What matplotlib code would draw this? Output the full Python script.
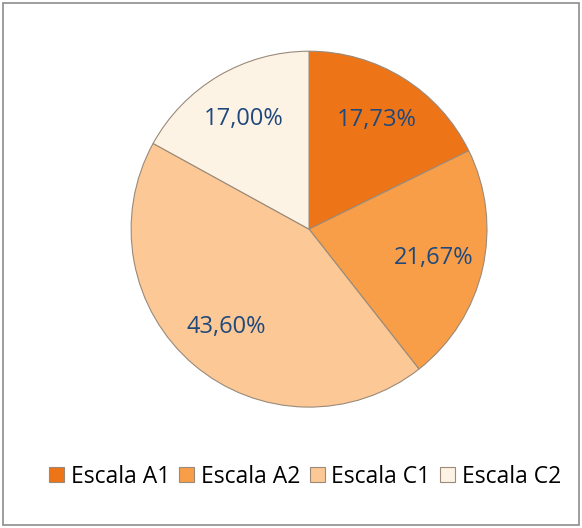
import matplotlib.pyplot as plt
from matplotlib.patches import Rectangle

# Data
labels = ["Escala A1", "Escala A2", "Escala C1", "Escala C2"]
values = [17.73, 21.67, 43.60, 17.00]
colors = ["#EE7418", "#F89E48", "#FCC895", "#FDF3E5"]

plt.rcParams['font.family'] = ['Open Sans', 'DejaVu Sans']

fig = plt.figure(figsize=(5.82, 5.28), dpi=100)

# outer frame
fig.patches.append(Rectangle((0.006, 0.006), 0.988, 0.988, transform=fig.transFigure,
                             fill=False, edgecolor="#8C8C8C", linewidth=1.2))

ax = fig.add_axes([0.225, 0.229, 0.612, 0.674])
wedges, texts, autotexts = ax.pie(
    values, colors=colors, startangle=90, counterclock=False,
    autopct=lambda p: f"{p:.2f}%".replace(".", ","), pctdistance=0.72,
    wedgeprops=dict(edgecolor="#9A8A7A", linewidth=0.8),
    textprops=dict(color="#1F497D", fontsize=17))
ax.set_xlim(-1.0, 1.0)
ax.set_ylim(-1.0, 1.0)
ax.set_aspect("equal")

leg = fig.legend(wedges, labels, loc="center", bbox_to_anchor=(0.524, 0.097), ncol=4,
                 frameon=False, fontsize=16.5, handlelength=0.65, handleheight=0.65,
                 handletextpad=0.3, columnspacing=0.4)

plt.savefig("out.png", dpi=100)
